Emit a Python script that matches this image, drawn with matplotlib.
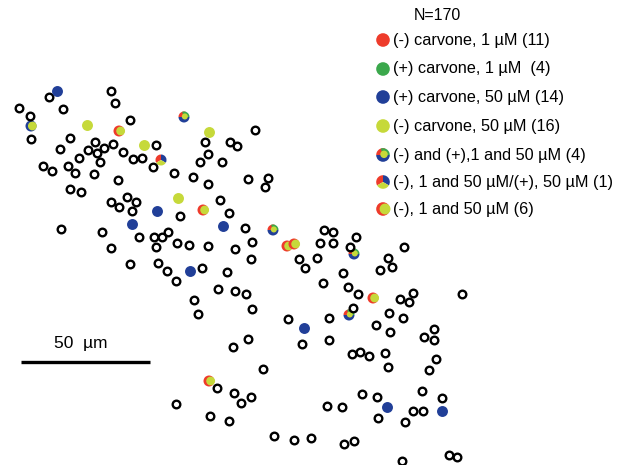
import matplotlib.pyplot as plt
from matplotlib.patches import Wedge, Circle

plt.rcParams['font.family'] = ['Liberation Sans', 'DejaVu Sans']

# cell positions, in picture pixels (x to the right, y downwards)
open_x = [49, 111, 115, 19, 63, 30, 130, 31, 70, 60, 95, 88, 104, 97, 113, 156, 123, 79, 100, 133,
          142, 153, 205, 208, 200, 43, 52, 68, 75, 94, 174, 193, 208, 118, 70, 81, 111, 119, 127, 136,
          132, 180, 61, 102, 139, 154, 162, 168,
          255, 230, 237, 222, 248, 265, 268, 220, 229, 245, 252, 299, 177, 189, 208, 235, 111, 156, 251,
          130, 158, 167, 202, 176, 227, 218, 235, 246, 194,
          252, 324, 333, 320, 333, 356, 350, 305, 317, 343, 323, 348, 358, 404, 388, 392, 380, 400, 409,
          413, 462, 353, 288, 329, 389, 403, 376, 390, 424, 434, 434, 248, 233, 302, 329,
          198, 352, 360, 369, 385, 388, 436, 429, 263, 217, 234, 241, 251, 176, 210, 229, 327, 342, 362,
          377, 378, 405, 422, 442, 413, 423, 274, 294, 311, 344, 354, 402, 449, 457]
open_y = [97, 91, 103, 108, 109, 116, 120, 139, 138, 149, 142, 150, 148, 153, 144, 145, 152, 158, 162, 159,
          158, 167, 142, 154, 162, 166, 171, 166, 173, 174, 173, 177, 184, 180, 189, 192, 202, 207, 197, 202,
          211, 216, 229, 232, 237, 237, 237, 232,
          130, 142, 146, 162, 179, 187, 178, 200, 213, 228, 242, 259, 243, 245, 246, 249, 248, 247, 259,
          264, 263, 271, 268, 281, 272, 289, 291, 294, 300,
          309, 230, 232, 243, 243, 237, 247, 268, 258, 273, 283, 287, 294, 247, 258, 267, 270, 299, 302,
          293, 294, 308, 319, 318, 313, 318, 325, 332, 337, 329, 340, 339, 347, 344, 340,
          314, 354, 352, 356, 353, 367, 359, 370, 369, 388, 393, 403, 397, 404, 416, 421, 406, 407, 394,
          397, 418, 422, 391, 398, 411, 411, 436, 440, 438, 444, 441, 461, 455, 457]

blue_x = [57, 157, 132, 223, 190, 304, 387, 442]
blue_y = [91, 211, 224, 226, 271, 328, 407, 411]
yellow_x = [87, 209, 144, 178]
yellow_y = [125, 132, 145, 198]

# mixed responses: A = (-) and (+), 1 and 50; B = (-) 1 and 50/(+) 50; C = (-) 1 and 50; D = blue/yellow
mix_x = [31, 119, 184, 161, 203, 273, 287, 294, 354, 373, 349, 209]
mix_y = [126, 131, 117, 160, 210, 230, 246, 244, 254, 298, 315, 381]
mix_kind = ['D', 'C', 'A', 'B', 'C', 'A', 'C', 'C', 'A', 'C', 'A', 'C']

legend_labels = ['(-) carvone, 1 \u00b5M (11)', '(+) carvone, 1 \u00b5M  (4)', '(+) carvone, 50 \u00b5M (14)',
                 '(-) carvone, 50 \u00b5M (16)', '(-) and (+),1 and 50 \u00b5M (4)',
                 '(-), 1 and 50 \u00b5M/(+), 50 \u00b5M (1)', '(-), 1 and 50 \u00b5M (6)']
legend_kind = ['red', 'green', 'blue', 'yellow', 'A', 'B', 'C']
legend_y = [40, 69, 97, 126, 155, 182, 209]

RED = '#ee3b2b'
GREEN = '#3ba84c'
BLUE = '#213f98'
YEL = '#c6d93a'
solid = {'red': RED, 'green': GREEN, 'blue': BLUE, 'yellow': YEL}


def draw_mark(ax, x, y, kind, r):
    if kind in solid:
        ax.add_patch(Circle((x, y), r, color=solid[kind], lw=0))
    elif kind == 'A':
        ax.add_patch(Wedge((x, y), r, 180, 290, color=RED, lw=0))
        ax.add_patch(Wedge((x, y), r, 250, 360, color=GREEN, lw=0))
        ax.add_patch(Wedge((x, y), r, 0, 180, color=BLUE, lw=0))
        ax.add_patch(Circle((x + 0.15 * r, y - 0.1 * r), 0.55 * r, color=YEL, lw=0))
    elif kind == 'B':
        ax.add_patch(Wedge((x, y), r, 150, 270, color=RED, lw=0))
        ax.add_patch(Wedge((x, y), r, 270, 390, color=BLUE, lw=0))
        ax.add_patch(Wedge((x, y), r, 30, 150, color=YEL, lw=0))
    elif kind == 'C':
        ax.add_patch(Circle((x, y), r, color=RED, lw=0))
        ax.add_patch(Circle((x + 0.3 * r, y), 0.8 * r, color=YEL, lw=0))
    elif kind == 'D':
        ax.add_patch(Circle((x, y), r, color=BLUE, lw=0))
        ax.add_patch(Circle((x + 0.25 * r, y), 0.8 * r, color=YEL, lw=0))


fig = plt.figure(figsize=(6.23, 4.65), dpi=100)
ax = fig.add_axes([0, 0, 1, 1])
ax.set_xlim(0, 623)
ax.set_ylim(465, 0)
ax.axis('off')

ax.scatter(open_x, open_y, s=30, facecolors='white', edgecolors='black', linewidths=1.7, zorder=2)
ax.scatter(blue_x, blue_y, s=62, color=BLUE, lw=0, zorder=3)
ax.scatter(yellow_x, yellow_y, s=62, color=YEL, lw=0, zorder=3)
for x, y, k in zip(mix_x, mix_y, mix_kind):
    draw_mark(ax, x, y, k, 5.5)

# legend
ax.text(437, 15, 'N=170', ha='center', va='center', fontsize=11.5)
for lab, k, y in zip(legend_labels, legend_kind, legend_y):
    draw_mark(ax, 383, y, k, 6.8)
    ax.text(393, y, lab, ha='left', va='center', fontsize=11.7)

# scale bar
ax.plot([21, 150], [362, 362], color='black', lw=2.4, solid_capstyle='butt')
ax.text(81, 343, '50  \u00b5m', ha='center', va='center', fontsize=12.5)

fig.savefig('out.png', dpi=100)
